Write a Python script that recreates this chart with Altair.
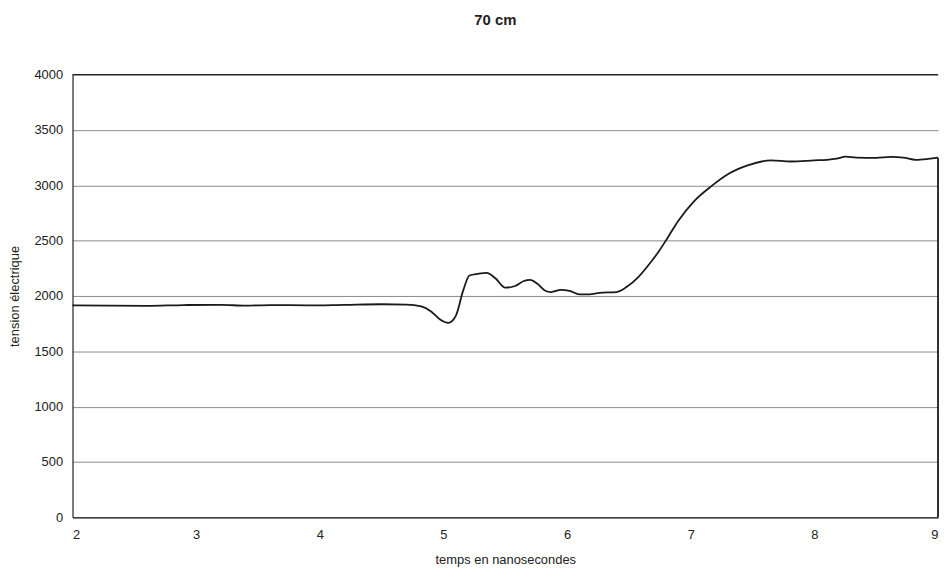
import altair as alt
import pandas as pd

title_text = "70 cm"
x_title = "temps en nanosecondes"
y_title = "tension électrique"

t_ns = [2.0, 2.3, 2.6, 2.9, 3.2, 3.4, 3.6, 3.9, 4.2, 4.5, 4.7, 4.82, 4.9, 4.97,
        5.04, 5.1, 5.16, 5.21, 5.28, 5.35, 5.42, 5.5, 5.58, 5.65, 5.7, 5.76,
        5.82, 5.87, 5.95, 6.02, 6.1, 6.18, 6.26, 6.4, 6.48, 6.58, 6.67, 6.74,
        6.81, 6.9, 7.03, 7.17, 7.3, 7.46, 7.65, 7.81, 8.0, 8.1, 8.18, 8.25,
        8.34, 8.5, 8.62, 8.72, 8.82, 8.92, 9.0]
tension = [1915, 1912, 1910, 1918, 1920, 1912, 1918, 1915, 1920, 1925, 1922,
           1905, 1860, 1790, 1757, 1820, 2050, 2185, 2200, 2208, 2160, 2075,
           2090, 2135, 2145, 2110, 2050, 2035, 2055, 2045, 2015, 2015, 2028,
           2035, 2080, 2175, 2295, 2400, 2520, 2680, 2860, 2995, 3100, 3180,
           3225, 3215, 3225, 3230, 3240, 3258, 3250, 3248, 3256, 3250, 3230,
           3238, 3249]

# final drop at the end of the record
drop_t = [9.0, 9.0]
drop_v = [3249, 0]
drop_order = [0, 1]

x_ticks = [2, 3, 4, 5, 6, 7, 8, 9]
y_ticks = [0, 500, 1000, 1500, 2000, 2500, 3000, 3500, 4000]
y_top = 4000

df = pd.DataFrame({"t": t_ns, "v": tension})
df_drop = pd.DataFrame({"t": drop_t, "v": drop_v, "o": drop_order})

font = "Liberation Sans"

x_enc = alt.X("t:Q", title=x_title,
              scale=alt.Scale(domain=[2, 9], nice=False, zero=False),
              axis=alt.Axis(values=x_ticks, format="d", grid=False,
                            ticks=False, labelPadding=11, titlePadding=13,
                            titleFontWeight="normal", labelFontSize=13,
                            titleFontSize=13, labelFont=font, titleFont=font,
                            labelColor="#222", titleColor="#222",
                            domainColor="#222", domainWidth=1.2))
y_enc = alt.Y("v:Q", title=y_title,
              scale=alt.Scale(domain=[0, 4000], nice=False),
              axis=alt.Axis(values=y_ticks, format="d",
                            grid=True, gridColor="#8a8a8a", gridWidth=1,
                            ticks=False, labelPadding=10, titlePadding=12,
                            titleFontWeight="normal", labelFontSize=13,
                            titleFontSize=13, labelFont=font, titleFont=font,
                            labelColor="#222", titleColor="#222",
                            domainColor="#222", domainWidth=1.2))

main = alt.Chart(df).mark_line(color="#1a1a1a", strokeWidth=1.8,
                               interpolate="monotone").encode(x=x_enc, y=y_enc)
drop = alt.Chart(df_drop).mark_line(color="#1a1a1a", strokeWidth=1.8).encode(
    x="t:Q", y="v:Q", order="o:Q")
top = alt.Chart(pd.DataFrame({"v": [y_top]})).mark_rule(
    color="#222", strokeWidth=1.3).encode(y="v:Q")

chart = alt.layer(main, drop, top).properties(
    width=872, height=446,
    background="white",
    title=alt.TitleParams(title_text, fontSize=15, fontWeight="bold", font=font,
                          color="#222", offset=41, anchor="middle", dx=-10),
    autosize=alt.AutoSizeParams(type="none"),
    padding={"left": 65, "top": 65, "right": 2, "bottom": 52},
).configure_view(stroke=None)

chart.save("out.html", embed_options={"renderer": "svg", "actions": False})
